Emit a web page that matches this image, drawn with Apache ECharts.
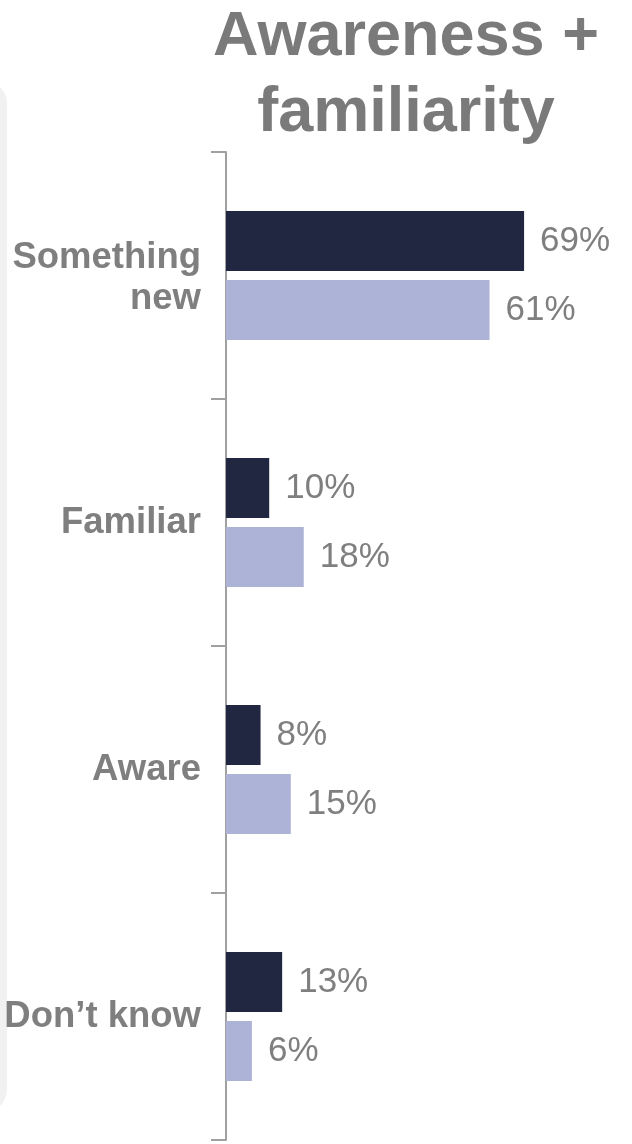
<!DOCTYPE html>
<html>
<head>
<meta charset="utf-8">
<script src="https://cdn.jsdelivr.net/npm/echarts@6/dist/echarts.min.js"></script>
<style>html,body{margin:0;padding:0;background:#fff;}#c{width:632px;height:1144px;}</style>
</head>
<body>
<div id="c"></div>
<script>
const categories = ['Something\nnew', 'Familiar', 'Aware', 'Don\u2019t know'];
const seriesDark = [69, 10, 8, 13];
const seriesLight = [61, 18, 15, 6];
const titleText = 'Awareness +\nfamiliarity';

const FONT = 'Arial, "Liberation Sans", sans-serif';
const GRAY = '#7f7f7f';
const chart = echarts.init(document.getElementById('c'));
const labelOpt = {
  show: true, position: 'right', distance: 16,
  formatter: p => p.value + '%',
  color: GRAY, fontSize: 35, fontFamily: FONT
};
const catStyle = { color: GRAY, fontSize: 36.5, fontWeight: 'bold', fontFamily: FONT, lineHeight: 46 };
chart.setOption({
  animation: false,
  title: {
    text: titleText, left: 406, top: 0, textAlign: 'center', padding: 0,
    textStyle: { color: '#7a7a7a', fontSize: 63, fontWeight: 'bold', fontFamily: FONT, lineHeight: 76 }
  },
  graphic: [{
    type: 'rect', z: -10, silent: true,
    shape: { x: -40, y: 80, width: 47, height: 1033, r: 26 },
    style: { fill: '#f1f1f1' }
  }],
  grid: { left: 226, top: 152, width: 345.6, height: 988 },
  xAxis: { type: 'value', min: 0, max: 80, show: false },
  yAxis: {
    type: 'category', data: categories, inverse: true,
    axisLine: { show: true, lineStyle: { color: '#a0a0a0', width: 2 } },
    axisTick: { show: true, length: 15, lineStyle: { color: '#a0a0a0', width: 2 } },
    axisLabel: Object.assign({
      margin: 25,
      formatter: v => {
        const parts = v.split('\n');
        if (parts.length === 1) return v;
        return '{t|' + parts[0] + '}\n{n|' + parts[1] + '}';
      },
      rich: {
        t: Object.assign({}, catStyle, { padding: [10, 0, 0, 0] }),
        n: Object.assign({}, catStyle)
      }
    }, catStyle)
  },
  series: [
    { type: 'bar', data: seriesDark, barWidth: 60, barGap: '15%', itemStyle: { color: '#212641' }, label: labelOpt },
    { type: 'bar', data: seriesLight, barWidth: 60, barGap: '15%', itemStyle: { color: '#adb3d6' }, label: labelOpt }
  ]
});
</script>
</body>
</html>
